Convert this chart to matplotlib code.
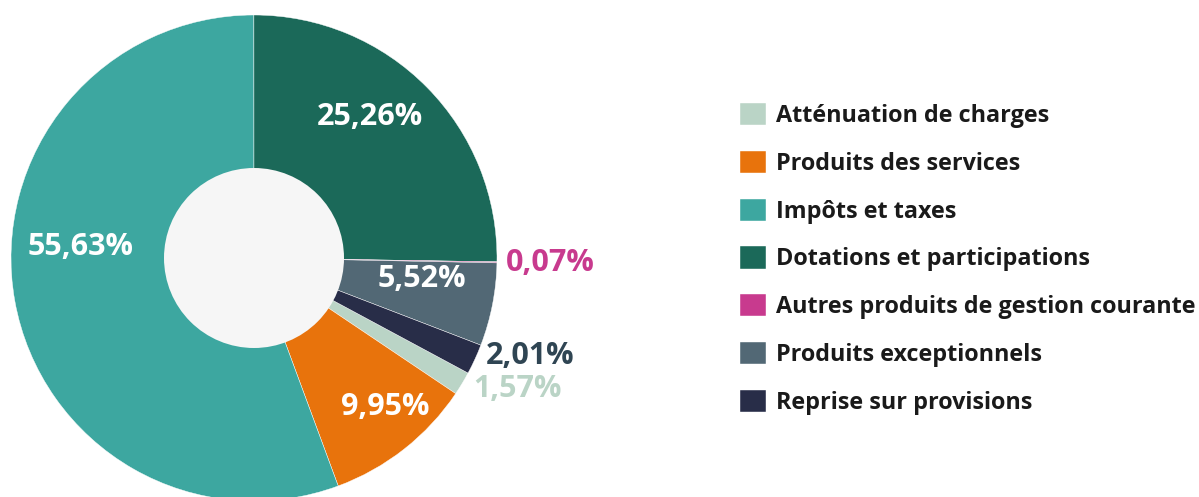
import numpy as np
import matplotlib
matplotlib.use("Agg")
import matplotlib.pyplot as plt
from matplotlib.patches import Circle

plt.rcParams['font.family'] = ['Open Sans', 'DejaVu Sans']

# data, in legend order
labels = ["Atténuation de charges", "Produits des services", "Impôts et taxes",
          "Dotations et participations", "Autres produits de gestion courante",
          "Produits exceptionnels", "Reprise sur provisions"]
values = [1.57, 9.95, 55.63, 25.26, 0.07, 5.52, 2.01]
pct_text = ["1,57%", "9,95%", "55,63%", "25,26%", "0,07%", "5,52%", "2,01%"]
colors = ["#bad4c6", "#e8730c", "#3da7a0", "#1b6959", "#c83a8e", "#526875", "#282d48"]

# label layout: (angle tweak deg, radius fraction, text colour)
label_layout = [(-4.7, 1.21, "#bad4c6"), (-3.2, 0.815, "white"), (13.7, 0.717, "white"),
                (-6.1, 0.753, "white"), (0.0, 1.22, "#c83a8e"), (-4.0, 0.695, "white"),
                (-5.2, 1.205, "#2f4553")]

W, H = 1199, 497
fig = plt.figure(figsize=(W / 100, H / 100), dpi=100)
ax = fig.add_axes([0, 0, 1, 1])

cx, cy, R = 254, 239, 243
# Dotations starts at 12 o'clock, going clockwise
offset = 3.6 * sum(values[:3])
start = 90 + offset - 360
wedges, _ = ax.pie(values, colors=colors, startangle=start, counterclock=False,
                   center=(cx, cy), radius=R,
                   wedgeprops=dict(edgecolor="white", linewidth=0.3))
ax.add_patch(Circle((cx, cy), 90, facecolor="#f6f6f6", edgecolor="none", zorder=3))

# percentage labels
cum = 0
for i, v in enumerate(values):
    mid = 3.6 * (cum + v / 2) - offset  # clockwise from top
    cum += v
    dang, rf, col = label_layout[i]
    a = np.radians((mid + dang) % 360)
    x = cx + rf * R * np.sin(a)
    y = cy + rf * R * np.cos(a)
    ax.text(x, y, pct_text[i], ha="center", va="center", color=col,
            fontsize=22, fontweight="bold", zorder=5)

ax.set_xlim(0, W)
ax.set_ylim(0, H)
ax.set_aspect("equal")
ax.axis("off")

leg = ax.legend(wedges, labels, loc="upper left", bbox_to_anchor=(740, H - 103),
                bbox_transform=ax.transData, frameon=False,
                prop=dict(weight="bold", size=16.8), handlelength=1.1, handleheight=1.1,
                handletextpad=0.45, labelspacing=0.97, borderpad=0, borderaxespad=0)
for t in leg.get_texts():
    t.set_color("#1a1a1a")

fig.savefig("out.png", dpi=100)
